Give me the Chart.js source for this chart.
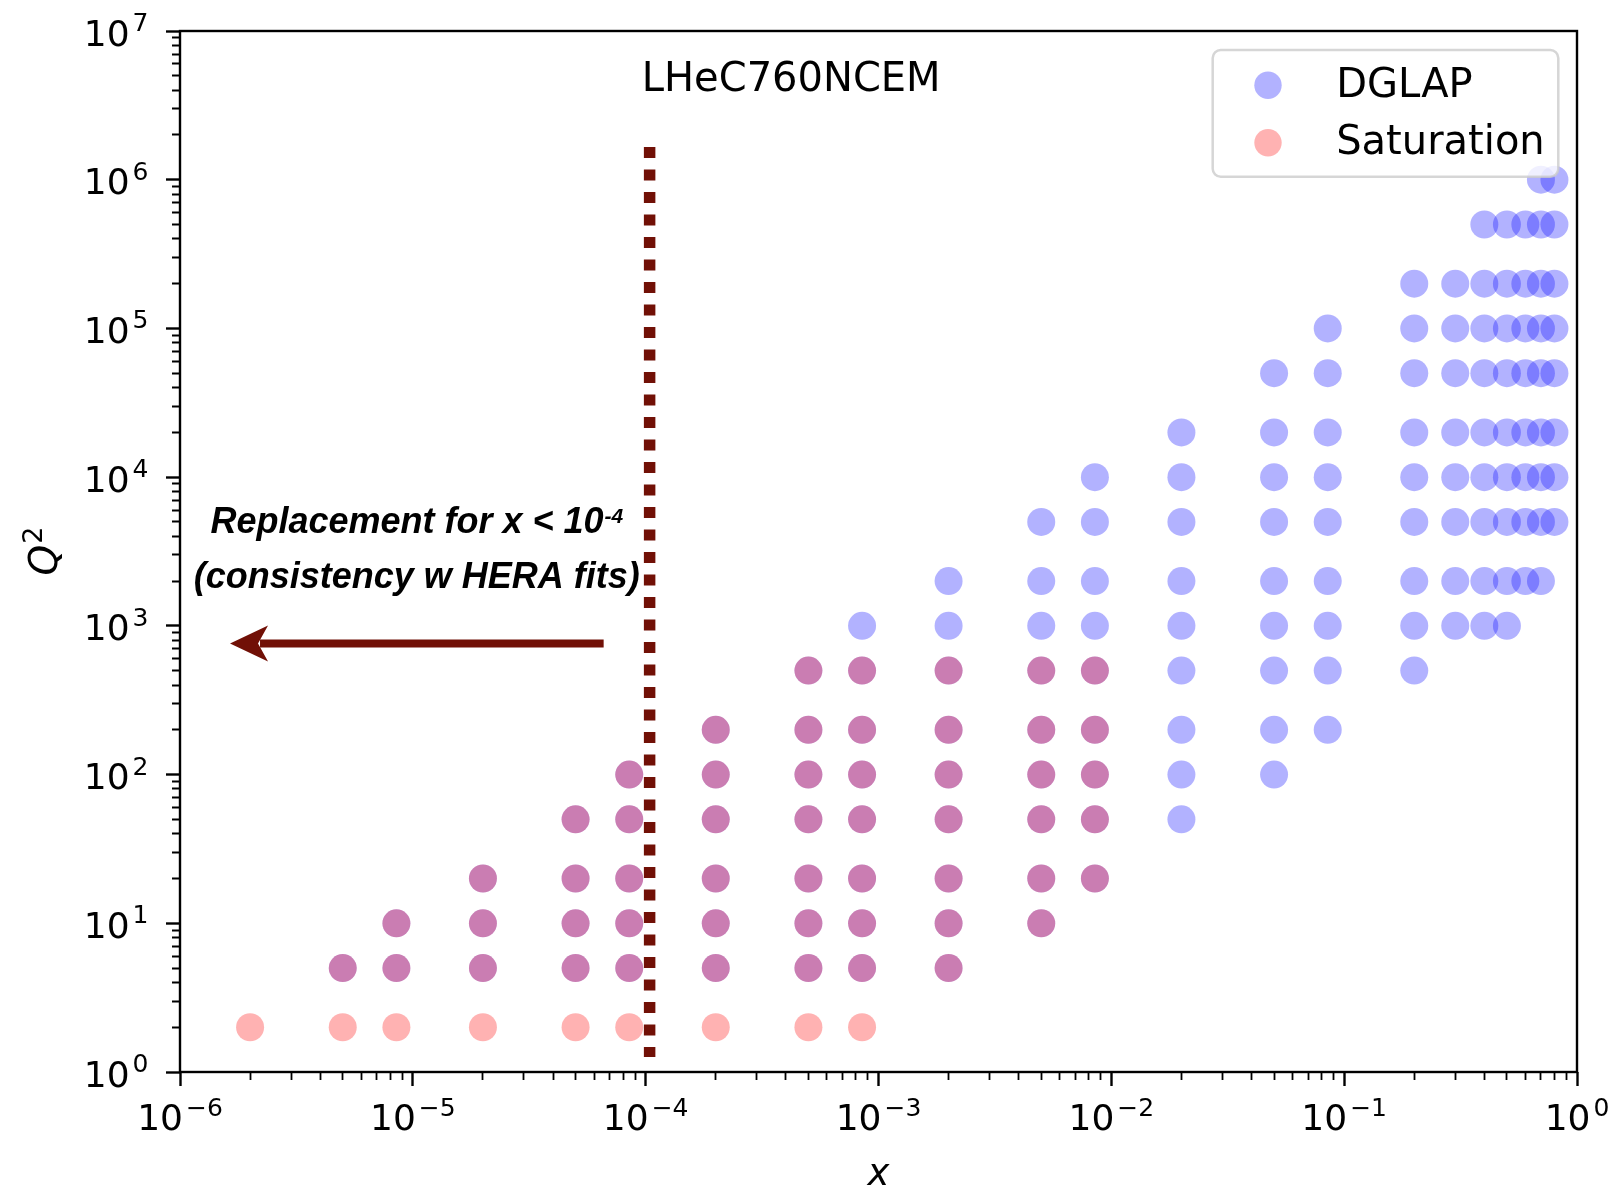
<!DOCTYPE html>
<html>
<head>
<meta charset="utf-8">
<title>LHeC760NCEM</title>
<script src="https://cdn.jsdelivr.net/npm/chart.js@4.4.1/dist/chart.umd.min.js"></script>
<style>
  html, body { margin: 0; padding: 0; background: #fff; }
  #wrap { width: 1613px; height: 1188px; }
</style>
</head>
<body>
<div id="wrap"><canvas id="plot" width="1613" height="1188"></canvas></div>
<script>
// pseudo-data grid points, one row per Q^2 value: [Q2, [x, x, ...]]
const dglapRows = [
  [5,    [5e-6, 8.5e-6, 2e-5, 5e-5, 8.5e-5, 2e-4, 5e-4, 8.5e-4, 2e-3]],
  [10,   [8.5e-6, 2e-5, 5e-5, 8.5e-5, 2e-4, 5e-4, 8.5e-4, 2e-3, 5e-3]],
  [20,   [2e-5, 5e-5, 8.5e-5, 2e-4, 5e-4, 8.5e-4, 2e-3, 5e-3, 8.5e-3]],
  [50,   [5e-5, 8.5e-5, 2e-4, 5e-4, 8.5e-4, 2e-3, 5e-3, 8.5e-3, 0.02]],
  [100,  [8.5e-5, 2e-4, 5e-4, 8.5e-4, 2e-3, 5e-3, 8.5e-3, 0.02, 0.05]],
  [200,  [2e-4, 5e-4, 8.5e-4, 2e-3, 5e-3, 8.5e-3, 0.02, 0.05, 0.085]],
  [500,  [5e-4, 8.5e-4, 2e-3, 5e-3, 8.5e-3, 0.02, 0.05, 0.085, 0.2]],
  [1000, [8.5e-4, 2e-3, 5e-3, 8.5e-3, 0.02, 0.05, 0.085, 0.2, 0.3, 0.4, 0.5]],
  [2000, [2e-3, 5e-3, 8.5e-3, 0.02, 0.05, 0.085, 0.2, 0.3, 0.4, 0.5, 0.6, 0.7]],
  [5000, [5e-3, 8.5e-3, 0.02, 0.05, 0.085, 0.2, 0.3, 0.4, 0.5, 0.6, 0.7, 0.8]],
  [1e4,  [8.5e-3, 0.02, 0.05, 0.085, 0.2, 0.3, 0.4, 0.5, 0.6, 0.7, 0.8]],
  [2e4,  [0.02, 0.05, 0.085, 0.2, 0.3, 0.4, 0.5, 0.6, 0.7, 0.8]],
  [5e4,  [0.05, 0.085, 0.2, 0.3, 0.4, 0.5, 0.6, 0.7, 0.8]],
  [1e5,  [0.085, 0.2, 0.3, 0.4, 0.5, 0.6, 0.7, 0.8]],
  [2e5,  [0.2, 0.3, 0.4, 0.5, 0.6, 0.7, 0.8]],
  [5e5,  [0.4, 0.5, 0.6, 0.7, 0.8]],
  [1e6,  [0.7, 0.8]],
];

const saturationRows = [
  [2,   [2e-6, 5e-6, 8.5e-6, 2e-5, 5e-5, 8.5e-5, 2e-4, 5e-4, 8.5e-4]],
  [5,   [5e-6, 8.5e-6, 2e-5, 5e-5, 8.5e-5, 2e-4, 5e-4, 8.5e-4, 2e-3]],
  [10,  [8.5e-6, 2e-5, 5e-5, 8.5e-5, 2e-4, 5e-4, 8.5e-4, 2e-3, 5e-3]],
  [20,  [2e-5, 5e-5, 8.5e-5, 2e-4, 5e-4, 8.5e-4, 2e-3, 5e-3, 8.5e-3]],
  [50,  [5e-5, 8.5e-5, 2e-4, 5e-4, 8.5e-4, 2e-3, 5e-3, 8.5e-3]],
  [100, [8.5e-5, 2e-4, 5e-4, 8.5e-4, 2e-3, 5e-3, 8.5e-3]],
  [200, [2e-4, 5e-4, 8.5e-4, 2e-3, 5e-3, 8.5e-3]],
  [500, [5e-4, 8.5e-4, 2e-3, 5e-3, 8.5e-3]],
];

// axis decades (labels are 10^exp)
const xTickExps = [-6, -5, -4, -3, -2, -1, 0];
const yTickExps = [0, 1, 2, 3, 4, 5, 6, 7];

const panelTitle = 'LHeC760NCEM';
const xTitle = 'x';
const yTitle = ['Q', '2'];

// the x < 1e-4 cut and its note
const cutLine = { x: 1.04e-4, q2From: 1.26, q2To: 1.66e6 };
const cutArrow = { q2: 760, xFrom: 6.6e-5, xTo: 1.64e-6 };
const cutNote = {
  x: 1.04e-5,
  lines: [
    { q2: 4210, text: 'Replacement for x < 10', sup: '-4' },
    { q2: 1797, text: '(consistency w HERA fits)', sup: '' },
  ],
};

const blue = 'rgba(0, 0, 255, 0.3)';
const red = 'rgba(255, 0, 0, 0.3)';
const noteColor = '#711006';
const FONT = '"DejaVu Sans"';
const NOTE_FONT = '"Liberation Sans"';

function toPoints(rows) {
  return rows.flatMap(([q2, xs]) => xs.map((x) => ({ x: x, y: q2 })));
}

function isMajor(v) {
  const l = Math.log10(v);
  return Math.abs(l - Math.round(l)) < 1e-9;
}

// 1..9 x 10^e for every decade, closing with the last power of ten
function logTicks(exps) {
  const out = [];
  for (let i = 0; i < exps.length - 1; i++) {
    for (let m = 1; m < 10; m++) out.push({ value: m * Math.pow(10, exps[i]), major: m === 1 });
  }
  out.push({ value: Math.pow(10, exps[exps.length - 1]), major: true });
  return out;
}

function powLabel(ctx, exp, x, y, align) {
  const base = '10';
  const sup = exp < 0 ? '\u2212' + (-exp) : String(exp);
  ctx.font = '36px ' + FONT;
  const wb = ctx.measureText(base).width;
  ctx.font = '25px ' + FONT;
  const ws = ctx.measureText(sup).width;
  const gap = 3;
  const w = wb + gap + ws;
  const x0 = align === 'center' ? x - w / 2 : x - w;
  ctx.textAlign = 'left';
  ctx.textBaseline = 'alphabetic';
  ctx.font = '36px ' + FONT;
  ctx.fillText(base, x0, y);
  ctx.font = '25px ' + FONT;
  ctx.fillText(sup, x0 + wb + gap, y - 14.5);
}

const decorations = {
  id: 'decorations',
  afterDraw(chart) {
    const ctx = chart.ctx;
    const area = chart.chartArea;
    const xs = chart.scales.x;
    const ys = chart.scales.y;
    ctx.save();

    // dotted cut line
    const lx = xs.getPixelForValue(cutLine.x);
    ctx.strokeStyle = noteColor;
    ctx.lineWidth = 11.5;
    ctx.lineCap = 'butt';
    ctx.setLineDash([11, 11.5]);
    ctx.beginPath();
    ctx.moveTo(lx, ys.getPixelForValue(cutLine.q2To));
    ctx.lineTo(lx, ys.getPixelForValue(cutLine.q2From));
    ctx.stroke();
    ctx.setLineDash([]);

    // arrow pointing to small x
    const ay = ys.getPixelForValue(cutArrow.q2);
    const tail = xs.getPixelForValue(cutArrow.xFrom);
    const tip = xs.getPixelForValue(cutArrow.xTo);
    ctx.lineWidth = 8;
    ctx.beginPath();
    ctx.moveTo(tail, ay);
    ctx.lineTo(tip + 30, ay);
    ctx.stroke();
    ctx.fillStyle = noteColor;
    ctx.beginPath();
    ctx.moveTo(tip, ay);
    ctx.lineTo(tip + 38, ay - 18);
    ctx.lineTo(tip + 28, ay);
    ctx.lineTo(tip + 38, ay + 18);
    ctx.closePath();
    ctx.fill();

    // note text
    ctx.fillStyle = '#000';
    ctx.textBaseline = 'alphabetic';
    ctx.textAlign = 'left';
    const nx = xs.getPixelForValue(cutNote.x);
    cutNote.lines.forEach((ln) => {
      ctx.font = 'italic bold 36px ' + NOTE_FONT;
      const wm = ctx.measureText(ln.text).width;
      ctx.font = 'italic bold 21px ' + NOTE_FONT;
      const wsup = ln.sup ? ctx.measureText(ln.sup).width + 1 : 0;
      const x0 = nx - (wm + wsup) / 2;
      const by = ys.getPixelForValue(ln.q2);
      ctx.font = 'italic bold 36px ' + NOTE_FONT;
      ctx.fillText(ln.text, x0, by);
      if (ln.sup) {
        ctx.font = 'italic bold 21px ' + NOTE_FONT;
        ctx.fillText(ln.sup, x0 + wm + 1, by - 10.5);
      }
    });

    // axes frame
    ctx.strokeStyle = '#000';
    ctx.lineWidth = 2.4;
    ctx.strokeRect(area.left, area.top, area.right - area.left, area.bottom - area.top);

    // tick labels
    ctx.fillStyle = '#000';
    xTickExps.forEach((e) => powLabel(ctx, e, xs.getPixelForValue(Math.pow(10, e)), area.bottom + 58, 'center'));
    yTickExps.forEach((e) => powLabel(ctx, e, area.left - 31.5, ys.getPixelForValue(Math.pow(10, e)) + 14.5, 'right'));

    // axis titles
    ctx.font = 'italic 37px ' + FONT;
    ctx.textAlign = 'center';
    ctx.fillText(xTitle, (area.left + area.right) / 2, area.bottom + 113);

    ctx.save();
    ctx.translate(area.left - 123, (area.top + area.bottom) / 2);
    ctx.rotate(-Math.PI / 2);
    ctx.font = 'italic 39px ' + FONT;
    const wq = ctx.measureText(yTitle[0]).width;
    ctx.font = '27px ' + FONT;
    const w2 = ctx.measureText(yTitle[1]).width;
    const q0 = -(wq + w2) / 2;
    ctx.textAlign = 'left';
    ctx.font = 'italic 39px ' + FONT;
    ctx.fillText(yTitle[0], q0, 0);
    ctx.font = '27px ' + FONT;
    ctx.fillText(yTitle[1], q0 + wq + 1, -15);
    ctx.restore();

    // panel title
    ctx.font = '40px ' + FONT;
    ctx.textAlign = 'center';
    ctx.fillText(panelTitle, area.left + (area.right - area.left) * 0.4375, area.top + 59.7);

    // legend box
    const lw = 345.6, lh = 126.7;
    const lx0 = area.right - 18.7 - lw;
    const ly0 = area.top + 19;
    ctx.beginPath();
    ctx.roundRect(lx0, ly0, lw, lh, 8);
    ctx.fillStyle = 'rgba(255, 255, 255, 0.8)';
    ctx.fill();
    ctx.strokeStyle = 'rgba(204, 204, 204, 0.8)';
    ctx.lineWidth = 2.5;
    ctx.stroke();
    const rows = [35.3, 92.7];
    chart.data.datasets.forEach((ds, i) => {
      const cy = ly0 + rows[i];
      ctx.beginPath();
      ctx.arc(lx0 + 55.3, cy, 13.7, 0, Math.PI * 2);
      ctx.fillStyle = ds.backgroundColor;
      ctx.fill();
      ctx.fillStyle = '#000';
      ctx.font = '40px ' + FONT;
      ctx.textAlign = 'left';
      ctx.fillText(ds.label, lx0 + 123.5, cy + 11.4);
    });

    ctx.restore();
  },
};

function tickGrid(minorDash) {
  return {
    drawOnChartArea: false,
    drawTicks: true,
    tickLength: 14,
    tickColor: '#000',
    tickWidth: (c) => (c.tick && !isMajor(c.tick.value) ? 1.8 : 2.4),
    tickBorderDash: (c) => (c.tick && !isMajor(c.tick.value) ? minorDash : []),
  };
}

new Chart(document.getElementById('plot'), {
  type: 'scatter',
  data: {
    datasets: [
      {
        label: 'DGLAP',
        data: toPoints(dglapRows),
        backgroundColor: blue,
        pointBackgroundColor: blue,
        borderColor: 'rgba(0,0,0,0)',
        pointRadius: 14,
        pointHoverRadius: 14,
        pointBorderWidth: 0,
        borderWidth: 0,
        order: 1,
      },
      {
        label: 'Saturation',
        data: toPoints(saturationRows),
        backgroundColor: red,
        pointBackgroundColor: red,
        borderColor: 'rgba(0,0,0,0)',
        pointRadius: 14,
        pointHoverRadius: 14,
        pointBorderWidth: 0,
        borderWidth: 0,
        order: 0,
      },
    ],
  },
  options: {
    responsive: false,
    animation: false,
    events: [],
    layout: { padding: { left: 0, top: 31, right: 36, bottom: 0 } },
    plugins: {
      legend: { display: false },
      tooltip: { enabled: false },
    },
    scales: {
      x: {
        type: 'logarithmic',
        position: 'bottom',
        min: Math.pow(10, xTickExps[0]),
        max: Math.pow(10, xTickExps[xTickExps.length - 1]),
        afterBuildTicks: (s) => { s.ticks = logTicks(xTickExps); },
        afterFit: (s) => { s.height = 116; },
        ticks: { display: false },
        border: { display: false },
        grid: tickGrid([8, 40]),
      },
      y: {
        type: 'logarithmic',
        position: 'left',
        min: Math.pow(10, yTickExps[0]),
        max: Math.pow(10, yTickExps[yTickExps.length - 1]),
        afterBuildTicks: (s) => { s.ticks = logTicks(yTickExps); },
        afterFit: (s) => { s.width = 180; },
        ticks: { display: false },
        border: { display: false },
        grid: tickGrid([0, 6, 8, 40]),
      },
    },
  },
  plugins: [decorations],
});
</script>
</body>
</html>
